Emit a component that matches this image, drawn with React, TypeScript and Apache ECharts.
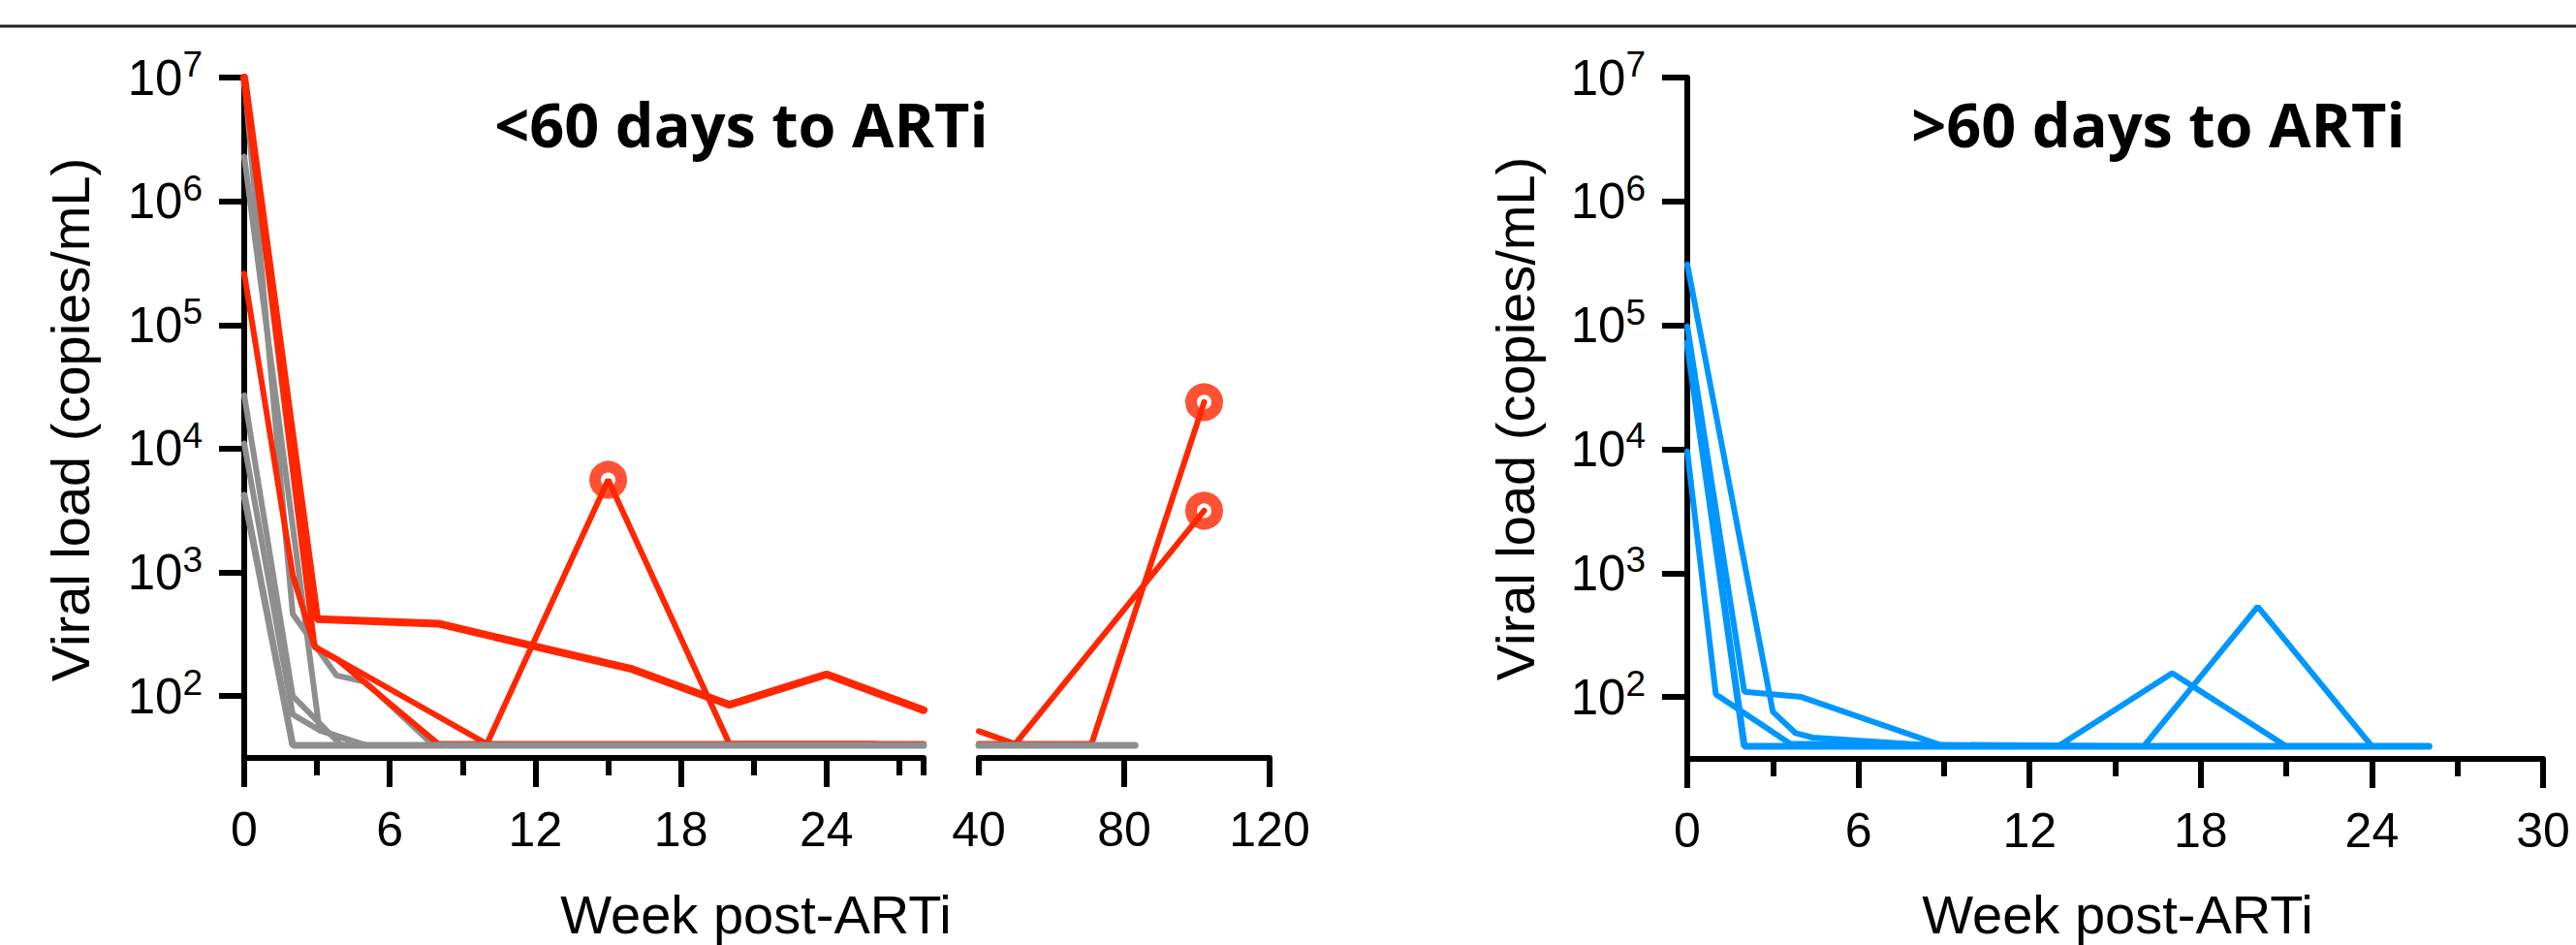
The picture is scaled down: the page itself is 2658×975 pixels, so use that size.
import React, { useEffect, useRef } from 'react';
import * as echarts from 'echarts';

// ---------- tick values ----------
const yTicks = [1e2, 1e3, 1e4, 1e5, 1e6, 1e7];
const earlyMajor = [0, 6, 12, 18, 24];
const earlyMinor = [3, 9, 15, 21, 27, 28];
const lateLabels = [40, 80, 120];
const lateMajor = [80, 120];
const lateMinor = [40];
const rightMajor = [0, 6, 12, 18, 24, 30];
const rightMinor = [3, 9, 15, 21, 27];

// ---------- <60 days to ARTi (weeks, copies/mL) ----------
const grey1 = [[0, 1e7], [2, 460], [3.8, 147], [5, 130], [7.8, 40], [12, 40]];
const grey2 = [[0, 2.3e6], [3.1, 53], [5, 40], [16, 40]];
const grey3 = [[0, 2.7e4], [2, 100], [4, 40], [20, 40]];
const grey4 = [[0, 1.1e4], [2, 71], [3.1, 53], [5, 40], [24, 40]];
const grey5Early = [[0, 4.2e3], [2, 40], [28, 40]];
const grey5Late = [[40, 40], [83, 40]];
const red1Early = [[0, 1e7], [3, 420], [8, 385], [16, 165], [20, 85], [24, 150], [28, 77]];
const red1Late = [[40, 52], [50, 41], [102, 3150]];
const red2Early = [[0, 2.6e5], [2, 950], [2.9, 250], [3.8, 200], [10, 41], [15, 5600], [20, 41], [28, 41]];
const red2Late = [[40, 41], [71, 41], [102, 23800]];
const red3 = [[0, 1e7], [2.9, 250], [3.8, 200], [8, 41], [26, 41]];
const reboundEarly = [[15, 5600]];
const reboundLate = [[102, 3150], [102, 23800]];

// ---------- >60 days to ARTi ----------
const blue1 = [[0, 3.1e5], [3, 76], [3.8, 51], [4.4, 47], [9, 40], [13, 40], [17, 156], [21, 40], [26, 40]];
const blue2 = [[0, 9.6e3], [1, 105], [2.6, 60], [3.6, 42], [16, 40], [20, 536], [24, 40], [26, 40]];
const blue3 = [[0, 7.2e4], [2, 40], [26, 40]];
const blue4 = [[0, 9.8e4], [2, 110], [4, 100], [9, 40], [12, 40]];

const RED = '#FF2600';
const GREY = '#8E8E8E';
const BLUE = '#0096FF';
const FONT = '"Liberation Sans", Arial, sans-serif';
const YMIN = Math.pow(10, 1.5);

function yAxis(gridIndex: number, visible: boolean) {
  return {
    type: 'log',
    logBase: 10,
    gridIndex,
    min: YMIN,
    max: 1e7,
    show: visible,
    axisLine: { show: visible, onZero: false, lineStyle: { color: '#000', width: 6 } },
    axisTick: { show: visible, customValues: yTicks, length: 26, lineStyle: { color: '#000', width: 6 } },
    minorTick: { show: false },
    splitLine: { show: false },
    axisLabel: {
      show: visible,
      customValues: yTicks,
      margin: 43,
      formatter: (v: number) => `{b|10}{s|${Math.round(Math.log10(v))}}`,
      rich: {
        b: { fontSize: 51, fontFamily: FONT, color: '#000', lineHeight: 64 },
        s: { fontSize: 37, fontFamily: FONT, color: '#000', lineHeight: 34, verticalAlign: 'top' },
      },
    },
  };
}

function xAxis(gridIndex: number, min: number, max: number, ticks: number[], labels: number[] | null, len: number, line: boolean) {
  return {
    type: 'value',
    gridIndex,
    min,
    max,
    position: 'bottom',
    offset: 0,
    axisLine: { show: line, onZero: false, lineStyle: { color: '#000', width: 6 } },
    axisTick: { show: true, customValues: ticks, length: len, lineStyle: { color: '#000', width: 6 } },
    minorTick: { show: false },
    splitLine: { show: false },
    axisLabel: labels
      ? { show: true, customValues: labels, margin: 49, fontSize: 50, fontFamily: FONT, color: '#000' }
      : { show: false },
  };
}

function line(data: number[][], color: string, width: number, xi: number, yi: number) {
  return {
    type: 'line',
    data,
    xAxisIndex: xi,
    yAxisIndex: yi,
    symbol: 'none',
    silent: true,
    lineStyle: { color, width, cap: 'round' },
  };
}

function rebound(data: number[][], xi: number, yi: number) {
  return {
    type: 'scatter',
    data,
    xAxisIndex: xi,
    yAxisIndex: yi,
    symbol: 'circle',
    symbolSize: 27,
    silent: true,
    z: 5,
    itemStyle: { color: 'rgba(0,0,0,0)', borderColor: RED, borderWidth: 12 },
  };
}

export default function App() {
  const ref = useRef<HTMLDivElement>(null);
  useEffect(() => {
    if (!ref.current) return;
    const chart = echarts.init(ref.current, undefined, { renderer: 'svg' });
    const option: any = {
      animation: false,
      backgroundColor: '#fff',
      grid: [
        { left: 252, top: 80, width: 701, height: 702 },
        { left: 1010, top: 80, width: 300, height: 702 },
        { left: 1741, top: 80, width: 883, height: 703 },
      ],
      xAxis: [
        xAxis(0, 0, 28, earlyMajor, earlyMajor, 30, true),
        xAxis(0, 0, 28, earlyMinor, null, 18, false),
        xAxis(1, 40, 120, lateMajor, lateLabels, 30, true),
        xAxis(1, 40, 120, lateMinor, null, 18, false),
        xAxis(2, 0, 30, rightMajor, rightMajor, 30, true),
        xAxis(2, 0, 30, rightMinor, null, 18, false),
      ],
      yAxis: [yAxis(0, true), yAxis(1, false), yAxis(2, true)],
      series: [
        line(grey1, GREY, 6, 0, 0),
        line(grey2, GREY, 6, 0, 0),
        line(grey3, GREY, 6, 0, 0),
        line(grey4, GREY, 6, 0, 0),
        line(red3, RED, 6, 0, 0),
        line(red2Early, RED, 6, 0, 0),
        line(red1Early, RED, 8, 0, 0),
        line(grey5Early, GREY, 7, 0, 0),
        rebound(reboundEarly, 0, 0),
        line(red2Late, RED, 6, 2, 1),
        line(red1Late, RED, 6, 2, 1),
        line(grey5Late, GREY, 7, 2, 1),
        rebound(reboundLate, 2, 1),
        line(blue4, BLUE, 6, 4, 2),
        line(blue3, BLUE, 7, 4, 2),
        line(blue2, BLUE, 6, 4, 2),
        line(blue1, BLUE, 6, 4, 2),
      ],
      graphic: [
        { type: 'line', shape: { x1: 0, y1: 27, x2: 2658, y2: 27 }, style: { stroke: '#222', lineWidth: 3 } },
        {
          type: 'text', x: 765, y: 127,
          style: { text: '<60 days to ARTi', fontSize: 63, fontWeight: 'bold', fontFamily: '"Open Sans", sans-serif', fill: '#000', align: 'center', verticalAlign: 'middle' },
        },
        {
          type: 'text', x: 2227, y: 127,
          style: { text: '>60 days to ARTi', fontSize: 63, fontWeight: 'bold', fontFamily: '"Open Sans", sans-serif', fill: '#000', align: 'center', verticalAlign: 'middle' },
        },
        {
          type: 'text', x: 72, y: 433, rotation: Math.PI / 2,
          style: { text: 'Viral load (copies/mL)', fontSize: 56, fontFamily: FONT, fill: '#000', align: 'center', verticalAlign: 'middle' },
        },
        {
          type: 'text', x: 1563, y: 432, rotation: Math.PI / 2,
          style: { text: 'Viral load (copies/mL)', fontSize: 56, fontFamily: FONT, fill: '#000', align: 'center', verticalAlign: 'middle' },
        },
        {
          type: 'text', x: 780, y: 943,
          style: { text: 'Week post-ARTi', fontSize: 56, fontFamily: FONT, fill: '#000', align: 'center', verticalAlign: 'middle' },
        },
        {
          type: 'text', x: 2185, y: 943,
          style: { text: 'Week post-ARTi', fontSize: 56, fontFamily: FONT, fill: '#000', align: 'center', verticalAlign: 'middle' },
        },
      ],
    };
    chart.setOption(option);
    return () => chart.dispose();
  }, []);
  return <div ref={ref} style={{ position: 'absolute', left: 0, top: 0, width: 2658, height: 975 }} />;
}
